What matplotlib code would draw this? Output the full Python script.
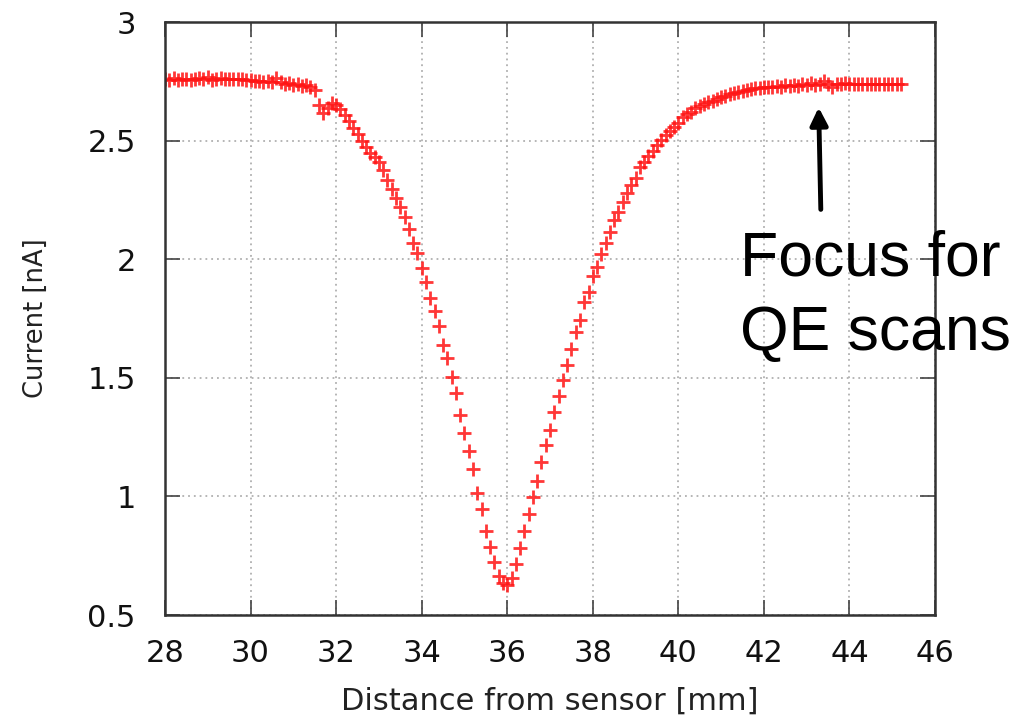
import matplotlib
matplotlib.use('Agg')
import matplotlib.pyplot as plt

# stage positions of the focus scan [mm]
distance_mm = [
    28.0, 28.1, 28.2, 28.3, 28.4, 28.5, 28.6, 28.7, 28.8, 28.9,
    29.0, 29.1, 29.2, 29.3, 29.4, 29.5, 29.6, 29.7, 29.8, 29.9,
    30.0, 30.1, 30.2, 30.3, 30.4, 30.5, 30.6, 30.7, 30.8, 30.9,
    31.0, 31.1, 31.2, 31.3, 31.4, 31.5, 31.6, 31.7, 31.8, 31.9,
    32.0, 32.1, 32.2, 32.3, 32.4, 32.5, 32.6, 32.7, 32.8, 32.9,
    33.0, 33.1, 33.2, 33.3, 33.4, 33.5, 33.6, 33.7, 33.8, 33.9,
    34.0, 34.1, 34.2, 34.3, 34.4, 34.5, 34.6, 34.7, 34.8, 34.9,
    35.0, 35.1, 35.2, 35.3, 35.4, 35.5, 35.6, 35.7, 35.8, 35.9,
    36.0, 36.1, 36.2, 36.3, 36.4, 36.5, 36.6, 36.7, 36.8, 36.9,
    37.0, 37.1, 37.2, 37.3, 37.4, 37.5, 37.6, 37.7, 37.8, 37.9,
    38.0, 38.1, 38.2, 38.3, 38.4, 38.5, 38.6, 38.7, 38.8, 38.9,
    39.0, 39.1, 39.2, 39.3, 39.4, 39.5, 39.6, 39.7, 39.8, 39.9,
    40.0, 40.1, 40.2, 40.3, 40.4, 40.5, 40.6, 40.7, 40.8, 40.9,
    41.0, 41.1, 41.2, 41.3, 41.4, 41.5, 41.6, 41.7, 41.8, 41.9,
    42.0, 42.1, 42.2, 42.3, 42.4, 42.5, 42.6, 42.7, 42.8, 42.9,
    43.0, 43.1, 43.2, 43.3, 43.4, 43.5, 43.6, 43.7, 43.8, 43.9,
    44.0, 44.1, 44.2, 44.3, 44.4, 44.5, 44.6, 44.7, 44.8, 44.9,
    45.0, 45.1, 45.2,
]

# measured current [nA]
current_nA = [
    2.760, 2.757, 2.762, 2.755, 2.758, 2.760, 2.754, 2.758, 2.762, 2.760,
    2.768, 2.757, 2.760, 2.762, 2.758, 2.760, 2.761, 2.758, 2.760, 2.757,
    2.755, 2.750, 2.752, 2.748, 2.751, 2.746, 2.764, 2.745, 2.740, 2.743,
    2.736, 2.740, 2.731, 2.733, 2.728, 2.712, 2.652, 2.618, 2.636, 2.657,
    2.650, 2.634, 2.610, 2.582, 2.553, 2.528, 2.500, 2.472, 2.446, 2.430,
    2.408, 2.376, 2.334, 2.296, 2.257, 2.219, 2.179, 2.126, 2.067, 2.026,
    1.962, 1.903, 1.838, 1.783, 1.718, 1.638, 1.582, 1.505, 1.435, 1.342,
    1.269, 1.190, 1.116, 1.013, 0.946, 0.855, 0.788, 0.722, 0.664, 0.636,
    0.625, 0.657, 0.715, 0.782, 0.854, 0.926, 0.999, 1.064, 1.144, 1.215,
    1.280, 1.356, 1.425, 1.489, 1.554, 1.620, 1.694, 1.744, 1.818, 1.863,
    1.929, 1.968, 2.022, 2.067, 2.116, 2.165, 2.200, 2.242, 2.278, 2.312,
    2.344, 2.387, 2.411, 2.436, 2.458, 2.480, 2.503, 2.522, 2.540, 2.559,
    2.576, 2.598, 2.614, 2.622, 2.636, 2.646, 2.655, 2.662, 2.669, 2.676,
    2.684, 2.690, 2.695, 2.700, 2.704, 2.710, 2.712, 2.716, 2.720, 2.722,
    2.726, 2.724, 2.728, 2.731, 2.727, 2.733, 2.730, 2.736, 2.731, 2.740,
    2.733, 2.744, 2.736, 2.740, 2.752, 2.738, 2.727, 2.740, 2.737, 2.741,
    2.739, 2.738, 2.740, 2.738, 2.739, 2.740, 2.739, 2.738, 2.740, 2.739,
    2.740, 2.739, 2.740,
]

x_ticks = [28, 30, 32, 34, 36, 38, 40, 42, 44, 46]
y_ticks = [0.5, 1.0, 1.5, 2.0, 2.5, 3.0]
y_tick_labels = ['0.5', '1', '1.5', '2', '2.5', '3']

fig = plt.figure(figsize=(10.16, 7.19), dpi=100)
ax = fig.add_axes([0.1624, 0.1446, 0.7579, 0.8248])

ax.plot(distance_mm, current_nA, linestyle='none', marker='+',
        markersize=10, markeredgewidth=2.0, color='#ff1414', alpha=0.85)

ax.set_xlim(28, 46)
ax.set_ylim(0.5, 3.0)
ax.set_xticks(x_ticks)
ax.set_yticks(y_ticks)
ax.set_yticklabels(y_tick_labels)

# gnuplot-like dotted grid and inward ticks on all sides
ax.grid(True, color='#b0b0b0', linestyle=(0, (1, 2.2)), linewidth=1.3)
ax.tick_params(direction='in', length=11, width=1.2, color='#444444',
               top=True, right=True, labelsize=22, labelcolor='#111111')
ax.tick_params(axis='x', pad=17)
ax.tick_params(axis='y', pad=21)
for sp in ax.spines.values():
    sp.set_color('#333333')
    sp.set_linewidth(1.8)

ax.set_xlabel('Distance from sensor [mm]', fontsize=22, color='#222222',
              labelpad=14)
ax.set_ylabel('Current [nA]', fontsize=18.5, color='#222222', labelpad=28)

# arrow pointing at the operating position
ax.annotate('', xy=(43.28, 2.64), xytext=(43.33, 2.21),
            arrowprops=dict(arrowstyle='-|>', color='black', lw=3.5,
                            mutation_scale=26, shrinkA=0, shrinkB=0))

fig.text(0.728, 0.6175, 'Focus for', fontsize=45, family='Liberation Sans',
         color='black', va='baseline', ha='left')
fig.text(0.728, 0.5132, 'QE scans', fontsize=45, family='Liberation Sans',
         color='black', va='baseline', ha='left')

fig.savefig('out.png', dpi=100)
